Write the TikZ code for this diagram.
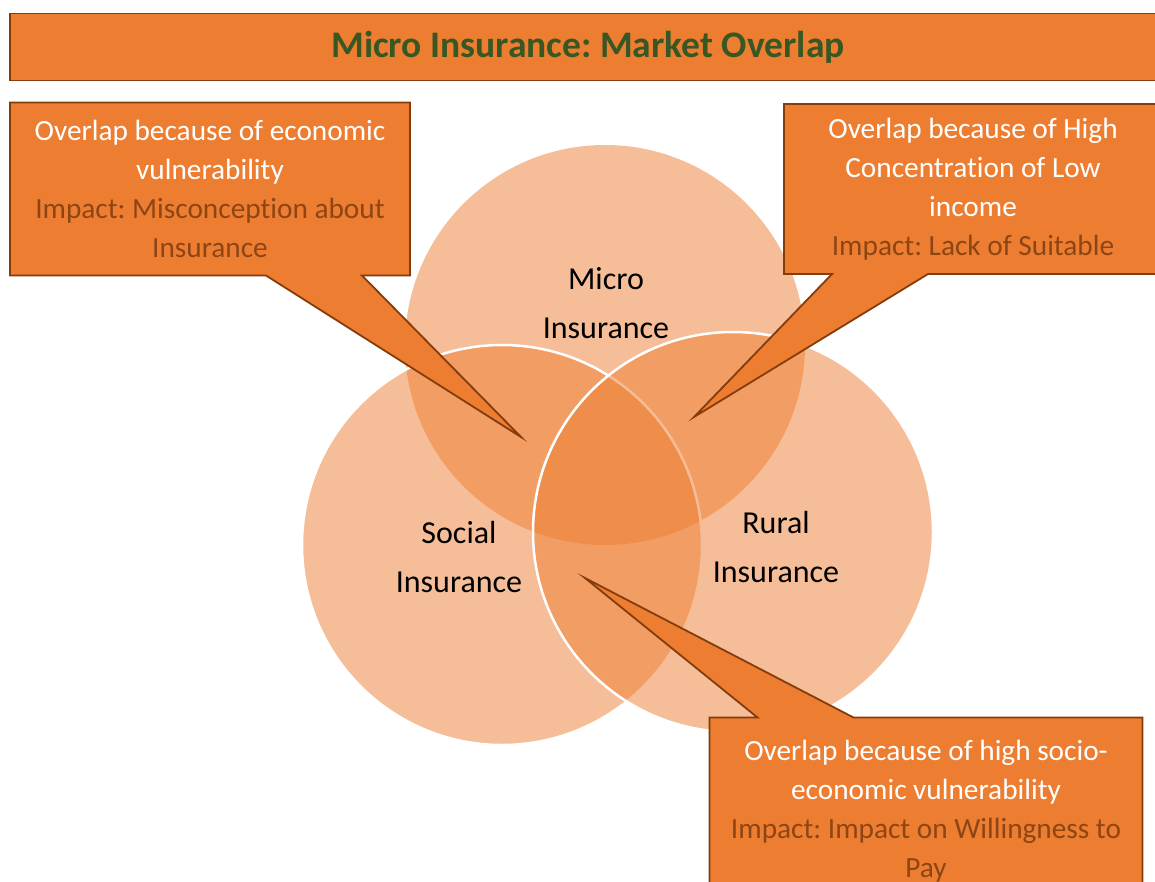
\documentclass[tikz,border=0pt]{standalone}
\usepackage{fontspec}
\setmainfont{Carlito}[Ligatures=NoCommon]
\usetikzlibrary{shapes.callouts}
\definecolor{boxorange}{HTML}{ED7D31}
\definecolor{boxedge}{HTML}{843C0C}
\definecolor{impactbrown}{HTML}{8E4514}
\definecolor{titlegreen}{HTML}{385723}
\newcommand{\impact}[1]{\textcolor{impactbrown}{#1}}
\frenchspacing
\tikzset{
   venn/.style ={
      circle, fill=boxorange, fill opacity=0.5, minimum size=400pt,
      inner sep=0pt, line width=2.5pt,
   },
   vennlabel/.style ={
      align=center, text=black, font=\fontsize{32}{49}\selectfont,
   },
   overlapbox/.style ={
      rectangle callout, draw=boxedge, fill=boxorange, line width=1.8pt,
      text=white, align=center, callout pointer width=96pt,
      font=\fontsize{29.3}{39}\selectfont,
   },
}

\begin{document}
\begin{tikzpicture}[x=1pt, y=-1pt]

      \clip (0,0) rectangle (1155,881);
      \useasboundingbox (0,0) rectangle (1155,881);

      \node[
         rectangle,
         draw=boxedge,
         fill=boxorange,
         line width=1.5pt,
         minimum width=1150pt,
         minimum height=67pt,
      ] (title) at (585,47) {};
      \node[text=titlegreen, font=\fontsize{37.5}{42}\selectfont\bfseries] (titletxt) at (588,47) {Micro Insurance: Market Overlap};

      % the three markets
      \node[venn] (micro) at (605,345) {};
      \node[venn, draw=white] (social) at (502,545) {};
      \node[venn, draw=white] (rural) at (733,532) {};

      \node[vennlabel] (microtxt) at (606,303) {Micro\\Insurance};
      \node[vennlabel] (socialtxt) at (459,557) {Social\\Insurance};
      \node[vennlabel] (ruraltxt) at (776,547) {Rural\\Insurance};

      % callouts
      \coordinate (econtip) at (521,437);
      \coordinate (incometip) at (694,417);
      \coordinate (sociotip) at (585,578);

      \node[
         overlapbox,
         minimum width=400pt,
         minimum height=173pt,
         callout absolute pointer=(econtip),
      ] (econ) at (210,189) {Overlap because of economic\\vulnerability\\\impact{Impact: Misconception about}\\\impact{Insurance}};

      \node[
         overlapbox,
         minimum width=378pt,
         minimum height=170pt,
         callout absolute pointer=(incometip),
      ] (income) at (973,189) {Overlap because of High\\Concentration of Low\\income\\\impact{Impact: Lack of Suitable}};

      \node[
         overlapbox,
         minimum width=433pt,
         minimum height=187pt,
         callout absolute pointer=(sociotip),
      ] (socio) at (926,811) {Overlap because of high socio-\\economic vulnerability\\\impact{Impact: Impact on Willingness to}\\\impact{Pay}};

\end{tikzpicture}
\end{document}
